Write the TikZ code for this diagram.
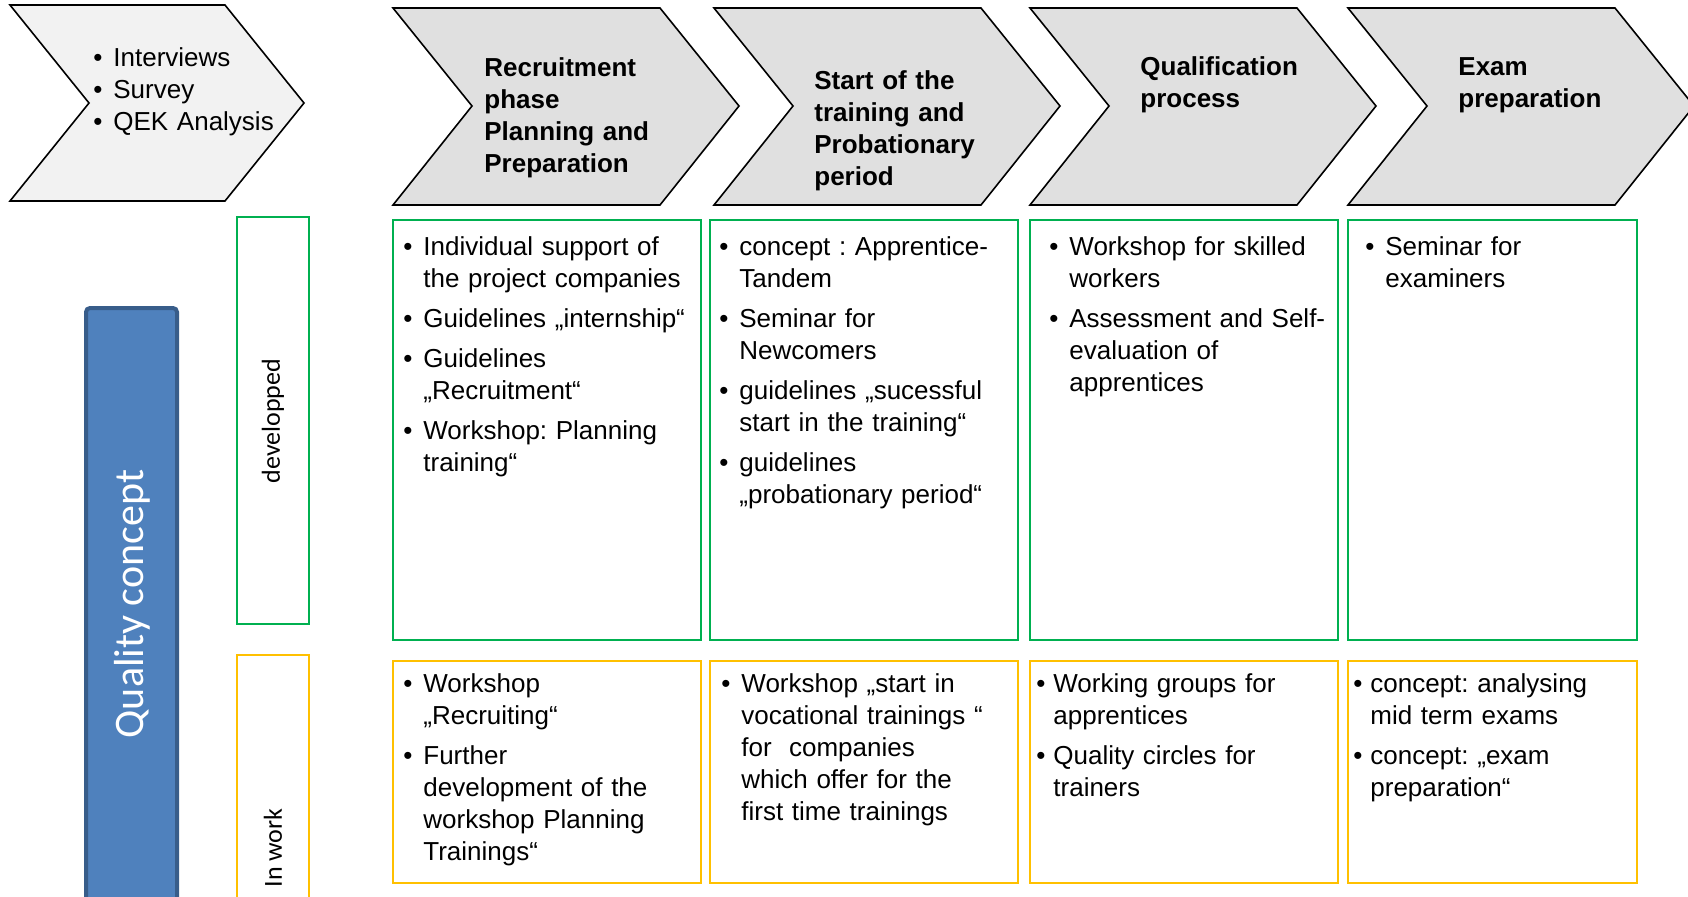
\documentclass[tikz,border=0pt]{standalone}
\usepackage{fontspec}
\setmainfont{Liberation Sans}
\newfontfamily\calibri{Carlito}
\usepackage{tikz}
\definecolor{phasegray}{HTML}{E0E0E0}
\definecolor{startgray}{HTML}{F2F2F2}
\definecolor{donegreen}{HTML}{00B050}
\definecolor{workyellow}{HTML}{FFC000}
\definecolor{qcblue}{HTML}{4F81BD}
\definecolor{qcborder}{HTML}{385D8A}
\frenchspacing
\newlength{\bulw}
\newcommand{\itm}[1]{\hangindent=\bulw\hangafter=1\noindent\hbox to\bulw{\textbullet\hfil}#1\par}

\begin{document}
\begin{tikzpicture}[x=0.5pt,y=-0.5pt,line join=miter,
    phase/.style={draw=black,line width=0.8pt,fill=phasegray},
    phasetext/.style={anchor=base west,inner sep=0pt,text width=150pt,align=left,font=\fontsize{13}{16}\selectfont\bfseries},
    entry/.style={anchor=base west,inner sep=0pt,text width=170pt,align=left,font=\fontsize{13}{16}\selectfont,
      execute at begin node={\frenchspacing\setlength{\parskip}{4pt}\setlength{\bulw}{10pt}}},
    narrow/.style={execute at begin node={\setlength{\parskip}{4pt}\setlength{\bulw}{8.5pt}}},
    done/.style={draw=donegreen,line width=1pt},
    inwork/.style={draw=workyellow,line width=1pt},
    rowlabel/.style={rotate=90,inner sep=0pt,font=\calibri\fontsize{13}{16}\selectfont}]
  \useasboundingbox (0,0) rectangle (1688,896);
  \clip (0,0) rectangle (1688,896);

  % process arrows
  \draw [phase,fill=startgray] (10,5) -- (225,5) -- (304,103) -- (225,201) -- (10,201) -- (89,103) -- cycle;
  \draw [phase] (393,8) -- (660,8) -- (739,106) -- (660,205) -- (393,205) -- (472,106) -- cycle;
  \draw [phase] (714,8) -- (981,8) -- (1060,106) -- (981,205) -- (714,205) -- (793,106) -- cycle;
  \draw [phase] (1030,8) -- (1297,8) -- (1376,106) -- (1297,205) -- (1030,205) -- (1109,106) -- cycle;
  \draw [phase] (1348,8) -- (1615,8) -- (1694,106) -- (1615,205) -- (1348,205) -- (1427,106) -- cycle;

  \node [entry,execute at begin node={\setlength{\parskip}{0pt}\setlength{\bulw}{10pt}}] (methods) at (93,66)
    {\itm{Interviews}\itm{Survey}\itm{QEK Analysis}};
  \node [phasetext] (recruit) at (484,76) {Recruitment\\phase\\Planning and\\Preparation};
  \node [phasetext] (start) at (814,89) {Start of the\\training and\\Probationary\\period};
  \node [phasetext] (qualif) at (1140,75) {Qualification\\process};
  \node [phasetext] (exam) at (1458,75) {Exam\\preparation};

  % left column
  \draw [line width=2pt,draw=qcborder,fill=qcblue,rounded corners=2pt] (86,308) rectangle (177,912);
  \node [rotate=90,text=white,font=\calibri\fontsize{21}{25}\selectfont] (quality) at (132,604) {Quality concept};
  \draw [done] (237,217) rectangle (309,624);
  \draw [inwork] (237,655) rectangle (309,1040);
  \node [rowlabel] (developped) at (273,421) {developped};
  \node [rowlabel] (inwork) at (273,848) {In work};

  % developped row
  \draw [done] (393,220) rectangle (701,640);
  \draw [done] (710,220) rectangle (1018,640);
  \draw [done] (1030,220) rectangle (1338,640);
  \draw [done] (1348,220) rectangle (1637,640);
  \node [entry] (d1) at (403,255) {\itm{Individual support of\newline the project companies}\itm{Guidelines „internship“}\itm{Guidelines\newline „Recruitment“}\itm{Workshop: Planning\newline training“}};
  \node [entry] (d2) at (719,255) {\itm{concept : Apprentice-\newline Tandem}\itm{Seminar for\newline Newcomers}\itm{guidelines „sucessful\newline start in the training“}\itm{guidelines\newline „probationary period“}};
  \node [entry] (d3) at (1049,255) {\itm{Workshop for skilled\newline workers}\itm{Assessment and Self-\newline evaluation of\newline apprentices}};
  \node [entry] (d4) at (1365,255) {\itm{Seminar for\newline examiners}};

  % in work row
  \draw [inwork] (393,661) rectangle (701,883);
  \draw [inwork] (710,661) rectangle (1018,883);
  \draw [inwork] (1030,661) rectangle (1338,883);
  \draw [inwork] (1348,661) rectangle (1637,883);
  \node [entry] (w1) at (403,692) {\itm{Workshop\newline „Recruiting“}\itm{Further\newline development of the\newline workshop Planning\newline Trainings“}};
  \node [entry] (w2) at (721,692) {\itm{Workshop „start in\newline vocational trainings “\newline for\ \ companies\newline which offer for the\newline first time trainings}};
  \node [entry,narrow] (w3) at (1036,692) {\itm{Working groups for\newline apprentices}\itm{Quality circles for\newline trainers}};
  \node [entry,narrow] (w4) at (1353,692) {\itm{concept: analysing\newline mid term exams}\itm{concept: „exam\newline preparation“}};
\end{tikzpicture}
\end{document}
